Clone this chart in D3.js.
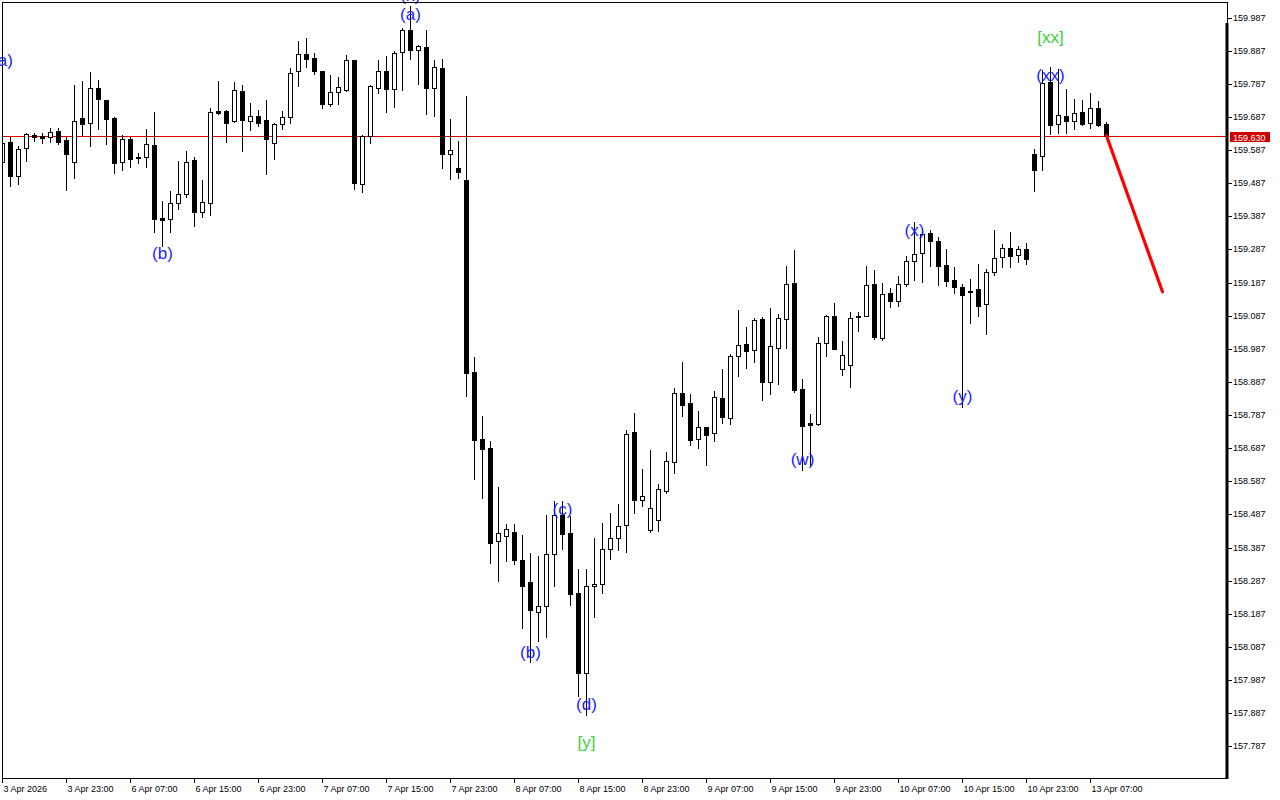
<!DOCTYPE html>
<html><head><meta charset="utf-8">
<script src="https://cdn.jsdelivr.net/npm/d3@7"></script>
<style>html,body{margin:0;padding:0;background:#fff;overflow:hidden}svg{display:block}</style>
</head><body><svg id="c" width="1280" height="800"></svg>
<script>
// ---- data (H1 candles, 3 Apr 15:00 .. 13 Apr 09:00) ----
const openP = [159.552,159.611,159.510,159.592,159.633,159.630,159.626,159.644,159.617,159.552,
159.684,159.668,159.773,159.738,159.685,159.550,159.620,159.566,159.565,159.601,
159.382,159.378,159.426,159.454,159.556,159.399,159.426,159.704,159.704,159.674,
159.765,159.676,159.690,159.678,159.607,159.665,159.686,159.825,159.877,159.864,
159.826,159.727,159.761,159.769,159.858,159.484,159.629,159.773,159.825,159.770,
159.882,159.949,159.888,159.898,159.775,159.835,159.574,159.533,159.497,158.917,
158.715,158.687,158.406,158.421,158.433,158.349,158.282,158.192,158.212,158.367,
158.486,158.431,158.250,158.007,158.270,158.276,158.383,158.415,158.454,158.735,
158.531,158.441,158.471,158.559,158.646,158.853,158.823,158.714,158.751,158.732,
158.838,158.777,158.965,159.002,158.983,159.077,158.886,158.989,159.076,159.186,
158.865,158.763,158.761,159.004,159.086,158.925,158.939,159.085,159.085,159.183,
159.020,159.156,159.132,159.182,159.251,159.275,159.336,159.312,159.239,159.194,
159.174,159.161,159.168,159.123,159.220,159.263,159.291,159.269,159.288,159.574,
159.568,159.792,159.667,159.689,159.675,159.701,159.669,159.713,159.665];
const highP = [159.623,159.627,159.599,159.638,159.639,159.639,159.654,159.654,159.627,159.783,
159.796,159.823,159.799,159.738,159.688,159.632,159.627,159.577,159.651,159.701,
159.433,159.463,159.554,159.584,159.566,159.497,159.714,159.796,159.708,159.793,
159.783,159.729,159.708,159.738,159.669,159.704,159.834,159.915,159.925,159.879,
159.826,159.814,159.807,159.874,159.858,159.633,159.783,159.859,159.871,159.886,
159.955,160.022,159.904,159.949,159.859,159.862,159.681,159.614,159.750,158.962,
158.784,158.709,158.569,158.457,158.457,158.425,158.371,158.362,158.486,158.528,
158.528,158.482,158.323,158.323,158.417,158.461,158.492,158.519,158.742,158.793,
158.624,158.682,158.579,158.676,158.869,158.947,158.850,158.799,158.751,158.859,
158.926,158.971,159.104,159.053,159.079,159.082,159.110,159.092,159.238,159.285,
158.896,158.791,159.023,159.090,159.125,159.011,159.099,159.097,159.238,159.225,
159.187,159.171,159.207,159.268,159.371,159.349,159.346,159.325,159.288,159.234,
159.184,159.199,159.243,159.229,159.346,159.304,159.338,159.297,159.307,159.591,
159.829,159.838,159.833,159.772,159.741,159.738,159.759,159.735,159.672];
const lowP = [159.527,159.479,159.484,159.555,159.615,159.609,159.611,159.605,159.467,159.501,
159.633,159.600,159.649,159.606,159.519,159.528,159.537,159.547,159.535,159.338,
159.298,159.341,159.410,159.446,159.359,159.385,159.392,159.697,159.612,159.672,
159.585,159.647,159.660,159.516,159.561,159.650,159.670,159.781,159.839,159.815,
159.715,159.719,159.727,159.766,159.470,159.461,159.609,159.758,159.703,159.718,
159.769,159.861,159.787,159.697,159.691,159.534,159.498,159.501,158.843,158.595,
158.538,158.339,158.287,158.345,158.337,158.145,158.040,158.105,158.118,158.272,
158.382,158.215,157.940,157.882,158.176,158.250,158.351,158.380,158.374,158.490,
158.511,158.435,158.438,158.553,158.613,158.785,158.698,158.686,158.637,158.710,
158.764,158.761,158.906,158.930,158.948,158.831,158.849,158.882,158.990,158.858,
158.622,158.636,158.758,158.966,158.985,158.909,158.873,159.042,159.085,159.018,
159.014,159.112,159.117,159.175,159.196,159.190,159.238,159.179,159.175,159.156,
158.812,159.064,159.087,159.031,159.210,159.235,159.235,159.250,159.244,159.464,
159.526,159.636,159.639,159.638,159.649,159.662,159.654,159.658,159.627];
const closeP = [159.609,159.510,159.589,159.635,159.626,159.623,159.641,159.612,159.574,159.674,
159.667,159.773,159.740,159.682,159.549,159.620,159.561,159.562,159.604,159.380,
159.377,159.426,159.454,159.550,159.399,159.430,159.701,159.699,159.670,159.768,
159.679,159.690,159.670,159.621,159.666,159.686,159.820,159.877,159.863,159.825,
159.727,159.761,159.777,159.858,159.486,159.630,159.780,159.825,159.770,159.881,
159.949,159.890,159.900,159.775,159.837,159.576,159.586,159.522,158.915,158.712,
158.683,158.402,158.430,158.442,158.348,158.272,158.197,158.210,158.367,158.486,
158.429,158.248,158.007,158.271,158.277,158.383,158.415,158.451,158.730,158.529,
158.544,158.507,158.563,158.648,158.853,158.818,158.713,158.750,158.728,158.841,
158.780,158.965,158.998,158.980,159.074,158.888,158.995,159.079,159.183,158.862,
158.755,158.758,159.004,159.086,158.987,158.968,159.079,159.082,159.180,159.023,
159.153,159.132,159.182,159.251,159.272,159.334,159.311,159.238,159.193,159.172,
159.148,159.157,159.117,159.218,159.261,159.291,159.268,159.288,159.259,159.528,
159.790,159.664,159.692,159.674,159.698,159.667,159.713,159.664,159.630];

const priceTicks = [157.787,157.887,157.987,158.087,158.187,158.287,158.387,158.487,158.587,158.687,
158.787,158.887,158.987,159.087,159.187,159.287,159.387,159.487,159.587,159.687,159.787,159.887,159.987];
const timeTickBars = [0,8,16,24,32,40,48,56,64,72,80,88,96,104,112,120,128,136];
const timeTickLabels = ["3 Apr 2026","3 Apr 23:00","6 Apr 07:00","6 Apr 15:00","6 Apr 23:00","7 Apr 07:00",
"7 Apr 15:00","7 Apr 23:00","8 Apr 07:00","8 Apr 15:00","8 Apr 23:00","9 Apr 07:00","9 Apr 15:00",
"9 Apr 23:00","10 Apr 07:00","10 Apr 15:00","10 Apr 23:00","13 Apr 07:00"];

const waveText  = ["(a)","(x)","(a)","(b)","(b)","(c)","(d)","[y]","(w)","(x)","(y)","(xx)","[xx]"];
const waveBar   = [0,51,51,20,66,70,73,73,100,114,120,131,131];
const wavePrice = [159.853,160.051,159.993,159.273,158.066,158.499,157.909,157.795,158.650,159.341,158.839,159.808,159.923];
const waveColor = ["#1c1cff","#1c1cff","#1c1cff","#1c1cff","#1c1cff","#1c1cff","#1c1cff","#3ccf3c","#1c1cff","#1c1cff","#1c1cff","#1c1cff","#3ccf3c"];

const currentPrice = 159.630;
const forecastBars = [138,145];
const forecastPrices = [159.630,159.159];

// ---- drawing ----
const svg = d3.select('#c');
const L = 2, R = 1227, T = 2, B = 778;
const x = d3.scaleLinear().domain([0,153]).range([2,1226]);
const y = d3.scaleLinear().domain([157.787,159.987]).range([746.3,17.5]).interpolate(d3.interpolateRound);
const yf = d3.scaleLinear().domain([157.787,159.987]).range([746.3,17.5]);

svg.append('defs').append('clipPath').attr('id','clip')
  .append('rect').attr('x',L).attr('y',T).attr('width',R-L).attr('height',B-T);

const plot = svg.append('g').attr('clip-path','url(#clip)');

plot.append('line').attr('x1',L).attr('x2',R)
  .attr('y1',y(currentPrice)+0.5).attr('y2',y(currentPrice)+0.5)
  .attr('stroke','#dd0000').attr('stroke-width',1);

const bars = d3.range(openP.length).map(i=>({i,o:openP[i],h:highP[i],l:lowP[i],c:closeP[i]}));

plot.selectAll('line.wick').data(bars).join('line').attr('class','wick')
  .attr('x1',d=>x(d.i)+0.5).attr('x2',d=>x(d.i)+0.5)
  .attr('y1',d=>y(d.h)).attr('y2',d=>y(d.l)+1)
  .attr('stroke','#000').attr('stroke-width',1);

const full = bars.filter(d=>y(d.o)!==y(d.c));
const flat = bars.filter(d=>y(d.o)===y(d.c));
plot.selectAll('rect.body').data(full).join('rect').attr('class','body')
  .attr('x',d=>x(d.i)-1.5).attr('width',4)
  .attr('y',d=>Math.min(y(d.o),y(d.c))+0.5)
  .attr('height',d=>Math.abs(y(d.o)-y(d.c)))
  .attr('fill',d=>d.c>=d.o?'#fff':'#000').attr('stroke','#000').attr('stroke-width',1);
plot.selectAll('line.flat').data(flat).join('line').attr('class','flat')
  .attr('x1',d=>x(d.i)-2).attr('x2',d=>x(d.i)+3)
  .attr('y1',d=>y(d.o)+0.5).attr('y2',d=>y(d.o)+0.5)
  .attr('stroke','#000').attr('stroke-width',1);

svg.append('line')
  .attr('x1',x(forecastBars[0])+0.5).attr('y1',yf(forecastPrices[0]))
  .attr('x2',x(forecastBars[1])+0.5).attr('y2',yf(forecastPrices[1]))
  .attr('stroke','#ff0000').attr('stroke-width',3.2).attr('stroke-linecap','round');

svg.append('g').selectAll('text').data(waveText).join('text')
  .attr('x',(d,i)=>x(waveBar[i])+0.5)
  .attr('y',(d,i)=>yf(wavePrice[i])+4.5)
  .attr('text-anchor','middle')
  .attr('font-family','"Liberation Sans", Arial, sans-serif')
  .attr('font-size',17)
  .attr('fill',(d,i)=>waveColor[i])
  .text(d=>d);

const frame = svg.append('g').attr('stroke','#000').attr('fill','none');
frame.append('line').attr('x1',L).attr('x2',R+1).attr('y1',T+0.5).attr('y2',T+0.5);
frame.append('line').attr('x1',L+0.5).attr('x2',L+0.5).attr('y1',T).attr('y2',B+1);
frame.append('line').attr('x1',L).attr('x2',R+1).attr('y1',B+0.5).attr('y2',B+0.5);
frame.append('line').attr('x1',R+0.5).attr('x2',R+0.5).attr('y1',T).attr('y2',24);
frame.append('line').attr('x1',R).attr('x2',R).attr('y1',23).attr('y2',B+1).attr('stroke-width',3);

const yAxis = d3.axisRight(y).tickValues(priceTicks).tickFormat(d3.format('.3f')).tickSize(4).tickPadding(1);
const ga = svg.append('g').attr('transform',`translate(${R+1},0)`).call(yAxis);
ga.select('.domain').remove();
ga.selectAll('text').attr('font-family','"Liberation Sans", Arial, sans-serif').attr('font-size',9).attr('fill','#000');
ga.selectAll('line').attr('stroke','#000');

const xAxis = d3.axisBottom(x).tickValues(timeTickBars).tickFormat((d,i)=>timeTickLabels[i]).tickSize(4).tickPadding(3);
const gx = svg.append('g').attr('transform',`translate(0,${B+1})`).call(xAxis);
gx.select('.domain').remove();
gx.selectAll('text').attr('text-anchor','start').attr('x',1)
  .attr('font-family','"Liberation Sans", Arial, sans-serif').attr('font-size',9).attr('fill','#000');
gx.selectAll('line').attr('stroke','#000');

const cy = y(currentPrice);
svg.append('rect').attr('x',R+3).attr('y',cy-4).attr('width',40).attr('height',10).attr('fill','#cc0000');
svg.append('text').attr('x',R+6).attr('y',cy+4.5)
  .attr('font-family','"Liberation Sans", Arial, sans-serif').attr('font-size',9).attr('fill','#fff')
  .text(d3.format('.3f')(currentPrice));
</script>
</body></html>
